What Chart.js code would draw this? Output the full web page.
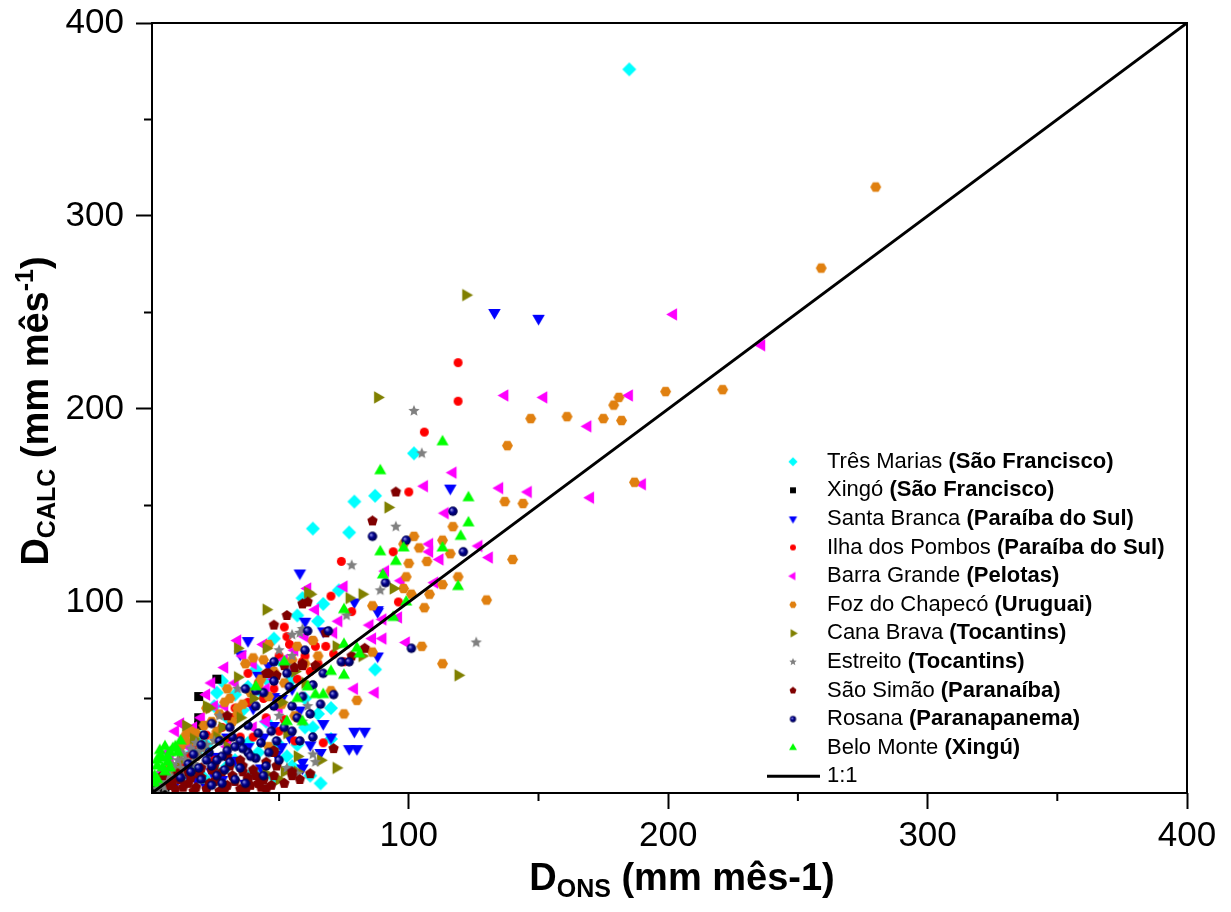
<!DOCTYPE html>
<html>
<head>
<meta charset="utf-8">
<script src="https://cdn.jsdelivr.net/npm/chart.js@4.4.1/dist/chart.umd.min.js"></script>
<style>
	html, body { margin: 0; padding: 0; background: #fff; }
	#wrap { width: 1231px; height: 912px; }
</style>
</head>
<body>
<div id="wrap"><canvas id="grafico" width="1231" height="912"></canvas></div>
<script>
// valores (D_ONS, D_CALC) em mm/mes
const tresMarias = [[185,376],[102,177],[79,152],[63,138],[77,136],[87,155],[87,65],[70,29],[63,35],[65,90],[67,99],[73,106],[26,53],[48,81],[41,65],[57,93],[48,9],[40,12],[53,20],[38,27],[57,26],[28,59],[25,46],[6,12],[4,8],[33,18],[45,38],[15,20],[10,12],[20,30],[55,60],[30,40],[60,50],[59,102],[8,10],[12,16],[18,22],[22,26],[36,44],[44,52],[2,4],[3,6],[5,11],[7,14],[9,8],[13,10],[17,12],[21,9],[26,12],[30,15],[35,15],[42,22],[50,26],[60,35],[65,42],[70,45],[45,60],[50,70],[38,56],[33,52],[55,15],[62,10],[66,6]];
const xingo = [[26,60],[19,51],[19,40],[19,36],[2,2],[3,1],[1,1],[4,3],[5,2],[3,3],[6,4],[2,3],[7,5],[4,5]];
const santaBranca = [[133,250],[150,247],[116,159],[58,115],[79,100],[88,95],[79,33],[77,24],[67,37],[88,72],[59,17],[60,90],[58,44],[67,85],[83,33],[80,24],[51,25],[59,14],[37,6],[22,4],[35,73],[51,50],[88,96],[49,21],[48,36],[48,51],[46,67],[30,30],[40,45],[25,20],[15,10],[43,14],[28,8],[10,6],[18,8],[24,12],[33,18],[38,25],[44,30],[54,30],[62,26],[66,22],[70,30],[55,55],[42,62],[38,80]];
const ilhaPombos = [[119,224],[119,204],[106,188],[100,157],[94,126],[74,121],[70,103],[78,95],[96,100],[68,77],[64,77],[71,73],[59,69],[75,69],[67,27],[52,87],[53,82],[63,80],[60,72],[50,72],[54,78],[38,63],[52,39],[20,25],[30,28],[45,40],[35,30],[25,18],[12,15],[42,58],[33,45],[15,20],[18,26],[22,31],[28,35],[32,40],[38,48],[44,50],[48,55],[57,60],[62,64],[65,68],[40,30],[50,33],[56,28]];
const barraGrande = [[202,249],[236,233],[185,207],[152,206],[137,207],[169,191],[190,161],[170,154],[135,159],[146,157],[117,167],[114,146],[127,129],[131,123],[106,160],[108,130],[108,126],[112,122],[91,116],[97,111],[75,108],[64,96],[99,79],[87,53],[79,55],[90,81],[86,81],[85,88],[96,92],[90,91],[73,90],[71,84],[61,107],[110,110],[34,80],[29,66],[12,37],[10,33],[7,22],[36,72],[29,46],[20,40],[25,46],[45,55],[55,65],[40,35],[50,45],[15,25],[5,12],[8,18],[11,25],[14,30],[17,35],[22,52],[24,58],[33,58],[40,68],[44,78],[48,60],[52,70],[56,75],[60,82],[30,25],[45,38]];
const fozChapeco = [[280,315],[259,273],[221,210],[199,209],[181,206],[179,202],[175,195],[182,194],[161,196],[147,195],[138,181],[187,162],[137,152],[144,151],[117,139],[113,132],[116,125],[140,122],[119,113],[102,134],[98,130],[104,128],[107,121],[100,120],[99,113],[98,107],[101,104],[108,104],[113,109],[130,101],[106,97],[86,98],[105,77],[113,68],[86,74],[80,49],[75,42],[63,80],[70,54],[46,78],[40,71],[37,68],[44,70],[57,77],[30,55],[31,50],[34,42],[16,33],[17,28],[26,33],[42,57],[50,48],[56,41],[46,25],[34,45],[15,33],[14,31],[57,40],[51,47],[46,51],[20,25],[25,30],[18,20],[10,12],[12,25],[14,28],[18,32],[21,36],[24,38],[27,42],[22,45],[29,48],[32,38],[36,47],[39,53],[43,60],[48,64],[52,58],[55,70],[60,68],[65,72],[8,15],[6,10],[4,6]];
const canaBrava = [[122,259],[88,206],[92,149],[82,104],[61,105],[77,102],[94,107],[45,96],[62,104],[119,62],[72,14],[66,18],[82,72],[34,61],[23,45],[14,36],[53,32],[72,77],[56,64],[45,76],[57,12],[50,8],[17,29],[52,12],[57,20],[12,18],[20,25],[28,35],[35,40],[34,76],[22,46],[51,48],[30,25],[45,11],[10,14],[26,30],[40,50],[60,58]];
const estreito = [[102,199],[105,177],[95,139],[78,119],[89,106],[76,93],[126,79],[61,46],[59,38],[63,21],[64,17],[58,84],[53,67],[55,72],[44,7],[27,41],[50,41],[50,75],[34,55],[3,3],[5,5],[8,8],[10,12],[12,14],[15,17],[18,20],[20,24],[14,18],[7,9],[22,26],[16,15],[25,28],[9,6],[4,6],[6,4],[11,9],[13,11],[5,9],[7,12],[9,15],[11,18],[13,21],[16,24],[18,27],[21,30],[10,10],[14,13],[17,16],[6,7],[3,5],[12,22],[8,16],[19,23],[55,83],[59,86],[53,14],[57,11]];
const saoSimao = [[95,157],[86,142],[61,100],[53,93],[64,67],[68,84],[83,76],[78,72],[59,67],[71,24],[48,88],[56,66],[46,63],[30,41],[48,22],[38,9],[43,4],[55,12],[49,15],[5,10],[8,5],[10,3],[12,8],[15,6],[18,4],[20,9],[22,3],[25,7],[28,12],[30,5],[32,10],[35,3],[38,8],[40,13],[42,6],[45,3],[48,10],[15,12],[25,15],[35,18],[20,14],[30,20],[45,63],[49,62],[55,10],[48,23],[45,17],[36,15],[9,7],[13,4],[16,9],[19,11],[23,6],[26,10],[29,3],[33,7],[36,12],[39,5],[41,10],[44,8],[47,5],[11,11],[24,13],[31,15],[17,2],[27,2],[37,2],[52,6],[58,8],[62,11],[59,99],[52,67],[59,68]];
const rosana = [[117,147],[121,126],[86,134],[99,132],[91,110],[101,76],[61,85],[69,85],[60,75],[74,69],[67,63],[63,57],[71,52],[63,30],[58,28],[77,69],[48,69],[44,53],[41,54],[37,55],[48,59],[54,56],[55,46],[41,46],[24,37],[31,35],[38,36],[42,32],[35,28],[49,28],[30,23],[38,22],[21,31],[17,21],[19,14],[24,15],[31,17],[35,14],[26,10],[16,12],[41,19],[45,15],[55,33],[59,51],[53,63],[48,46],[28,20],[33,25],[22,18],[27,28],[20,26],[23,22],[26,18],[29,13],[32,30],[36,24],[39,20],[43,27],[46,22],[50,18],[52,35],[20,8],[24,5],[28,6],[33,8],[37,6],[44,10],[15,16],[12,9],[47,33],[57,40],[62,42],[66,47]];
const beloMonte = [[113,183],[123,154],[123,141],[120,134],[113,128],[89,168],[89,126],[95,121],[119,108],[98,128],[90,114],[75,96],[94,92],[99,100],[75,78],[81,73],[70,64],[75,62],[64,52],[67,52],[61,56],[59,38],[52,69],[41,56],[4,20],[3,15],[5,19],[80,76],[53,38],[6,12],[3,8],[8,22],[7,17],[10,25],[12,28],[57,50],[2,10],[3,18],[4,23],[6,25],[2,6],[5,14],[7,20],[9,24],[8,14],[11,22]];
const linha11 = [[1,1],[400,400]];

const usinas = ["Três Marias", "Xingó", "Santa Branca", "Ilha dos Pombos", "Barra Grande", "Foz do Chapecó", "Cana Brava", "Estreito", "São Simão", "Rosana", "Belo Monte"];
const rios = ["(São Francisco)", "(São Francisco)", "(Paraíba do Sul)", "(Paraíba do Sul)", "(Pelotas)", "(Uruguai)", "(Tocantins)", "(Tocantins)", "(Paranaíba)", "(Paranapanema)", "(Xingú)"];
const cores = ["#00FFFF", "#000000", "#0000FF", "#FF0000", "#FF00FF", "#E08010", "#808000", "#808080", "#800000", "#000080", "#00FF00"];
const formas = ["losango", "quadrado", "trianguloBaixo", "circulo", "trianguloEsq", "hexagono", "trianguloDir", "estrela", "pentagono", "esfera", "trianguloCima"];
const tamanhos = [14, 9, 12.5, 9, 12.5, 11, 12.5, 12, 11, 9.5, 12];

const ticksMaiores = [100, 200, 300, 400];
const ticksMenores = [50, 150, 250, 350];
const fonte = "'Liberation Sans', Arial, sans-serif";

function poligono(g, n, r, ang0) {
	for (let i = 0; i < n; i++) {
		let a = ang0 + (i * 2 * Math.PI) / n;
		if (i == 0) g.moveTo(r * Math.cos(a), r * Math.sin(a));
		else g.lineTo(r * Math.cos(a), r * Math.sin(a));
	}
	g.closePath();
}

function marcador(forma, cor, tam) {
	let c = document.createElement("canvas");
	let s = Math.ceil(tam) + 6;
	c.width = s;
	c.height = s;
	let g = c.getContext("2d");
	let r = tam / 2;
	g.translate(s / 2, s / 2);
	g.fillStyle = cor;
	g.beginPath();
	if (forma == "circulo") {
		g.arc(0, 0, r, 0, 2 * Math.PI);
	} else if (forma == "esfera") {
		g.arc(0, 0, r, 0, 2 * Math.PI);
		let gr = g.createRadialGradient(-r * 0.35, -r * 0.35, r * 0.05, 0, 0, r);
		gr.addColorStop(0, "#9a9ae8");
		gr.addColorStop(0.45, "#000090");
		gr.addColorStop(1, "#000045");
		g.fillStyle = gr;
	} else if (forma == "quadrado") {
		g.rect(-r, -r, 2 * r, 2 * r);
	} else if (forma == "losango") {
		poligono(g, 4, r, -Math.PI / 2);
	} else if (forma == "hexagono") {
		poligono(g, 6, r, 0);
	} else if (forma == "pentagono") {
		poligono(g, 5, r, -Math.PI / 2);
	} else if (forma == "estrela") {
		for (let i = 0; i < 10; i++) {
			let a = -Math.PI / 2 + (i * Math.PI) / 5;
			let rr = i % 2 == 0 ? r : r * 0.45;
			if (i == 0) g.moveTo(rr * Math.cos(a), rr * Math.sin(a));
			else g.lineTo(rr * Math.cos(a), rr * Math.sin(a));
		}
		g.closePath();
	} else {
		let rot = { trianguloCima: 0, trianguloDir: 90, trianguloBaixo: 180, trianguloEsq: 270 }[forma];
		g.rotate((rot * Math.PI) / 180);
		poligono(g, 3, tam * 0.58, -Math.PI / 2);
	}
	g.fill();
	return c;
}

const series = [tresMarias, xingo, santaBranca, ilhaPombos, barraGrande, fozChapeco, canaBrava, estreito, saoSimao, rosana, beloMonte];
const marcPlot = formas.map((f, i) => marcador(f, cores[i], tamanhos[i]));
const marcLeg = formas.map((f, i) => marcador(f, cores[i], tamanhos[i] * 0.66));

let datasets = series.map((s, i) => {
	return {
		label: usinas[i],
		data: s.map((p) => ({ x: p[0], y: p[1] })),
		pointStyle: marcPlot[i],
		pointRadius: 5,
		showLine: false,
		order: 20 - i,
	};
});
datasets.push({
	label: "1:1",
	data: linha11.map((p) => ({ x: p[0], y: p[1] })),
	showLine: true,
	pointRadius: 0,
	borderColor: "#000",
	borderWidth: 3,
	order: 0,
});

function textoRico(ctx, partes, x, y) {
	let total = 0;
	partes.forEach((p) => {
		ctx.font = "bold " + p.tam + "px " + fonte;
		total += ctx.measureText(p.t).width;
	});
	let cx = x - total / 2;
	partes.forEach((p) => {
		ctx.font = "bold " + p.tam + "px " + fonte;
		ctx.fillText(p.t, cx, y + (p.dy || 0));
		cx += ctx.measureText(p.t).width;
	});
}

const extras = {
	id: "extras",
	afterDraw(chart) {
		let ctx = chart.ctx;
		let a = chart.chartArea;
		let sx = chart.scales.x;
		let sy = chart.scales.y;
		ctx.save();
		ctx.strokeStyle = "#000";
		ctx.lineWidth = 2;
		ctx.strokeRect(a.left, a.top, a.right - a.left, a.bottom - a.top);
		// ticks menores
		ctx.beginPath();
		ticksMenores.forEach((v) => {
			let px = sx.getPixelForValue(v);
			ctx.moveTo(px, a.bottom);
			ctx.lineTo(px, a.bottom + 8);
			let py = sy.getPixelForValue(v);
			ctx.moveTo(a.left, py);
			ctx.lineTo(a.left - 8, py);
		});
		ctx.stroke();

		// titulos
		ctx.fillStyle = "#000";
		ctx.textBaseline = "alphabetic";
		ctx.textAlign = "left";
		textoRico(ctx, [
			{ t: "D", tam: 38 },
			{ t: "ONS", tam: 25, dy: 7 },
			{ t: " (mm mês-1)", tam: 38 },
		], 682, 890);
		ctx.save();
		ctx.translate(48, 411);
		ctx.rotate(-Math.PI / 2);
		textoRico(ctx, [
			{ t: "D", tam: 38 },
			{ t: "CALC", tam: 25, dy: 7 },
			{ t: " (mm mês", tam: 38 },
			{ t: "-1", tam: 25, dy: -15 },
			{ t: ")", tam: 38 },
		], 0, 0);
		ctx.restore();

		// legenda
		ctx.textBaseline = "middle";
		for (let i = 0; i < usinas.length; i++) {
			let y = 461.7 + i * 28.6;
			let m = marcLeg[i];
			ctx.drawImage(m, 793 - m.width / 2, y - m.height / 2);
			ctx.font = "22px " + fonte;
			ctx.fillText(usinas[i] + " ", 827, y);
			let w = ctx.measureText(usinas[i] + " ").width;
			ctx.font = "bold 22px " + fonte;
			ctx.fillText(rios[i], 827 + w, y);
		}
		let yl = 461.7 + 11 * 28.6;
		ctx.beginPath();
		ctx.lineWidth = 3;
		ctx.moveTo(767, yl);
		ctx.lineTo(820, yl);
		ctx.stroke();
		ctx.font = "22px " + fonte;
		ctx.fillText("1:1", 827, yl);
		ctx.restore();
	},
};

function eixo(largura, ehX) {
	return {
		type: "linear",
		min: 1,
		max: 400,
		afterFit: (s) => {
			if (ehX) {
				s.height = largura;
				s.paddingLeft = 0;
				s.paddingRight = 0;
			} else {
				s.width = largura;
				s.paddingTop = 0;
				s.paddingBottom = 0;
			}
		},
		afterBuildTicks: (s) => {
			s.ticks = ticksMenores.concat(ticksMaiores).sort((a, b) => a - b).map((v) => ({ value: v }));
		},
		border: { display: false },
		grid: {
			display: true,
			drawOnChartArea: false,
			drawTicks: true,
			tickLength: 16,
			tickWidth: 2,
			tickColor: (c) => (c.tick && ticksMaiores.includes(c.tick.value) ? "#000" : "rgba(0,0,0,0)"),
		},
		ticks: {
			color: "#000",
			autoSkip: false,
			maxRotation: 0,
			padding: ehX ? 6 : 12,
			font: { family: fonte, size: 35 },
			callback: (v) => (ticksMaiores.includes(v) ? v : ""),
		},
	};
}

let ctx = document.getElementById("grafico");
let grafico = new Chart(ctx, {
	type: "scatter",
	data: { datasets: datasets },
	options: {
		responsive: false,
		animation: false,
		events: [],
		layout: { padding: { top: 23, right: 44, left: 0, bottom: 0 } },
		plugins: { legend: { display: false }, tooltip: { enabled: false } },
		scales: {
			x: eixo(119, true),
			y: eixo(152, false),
		},
	},
	plugins: [extras],
});
</script>
</body>
</html>
